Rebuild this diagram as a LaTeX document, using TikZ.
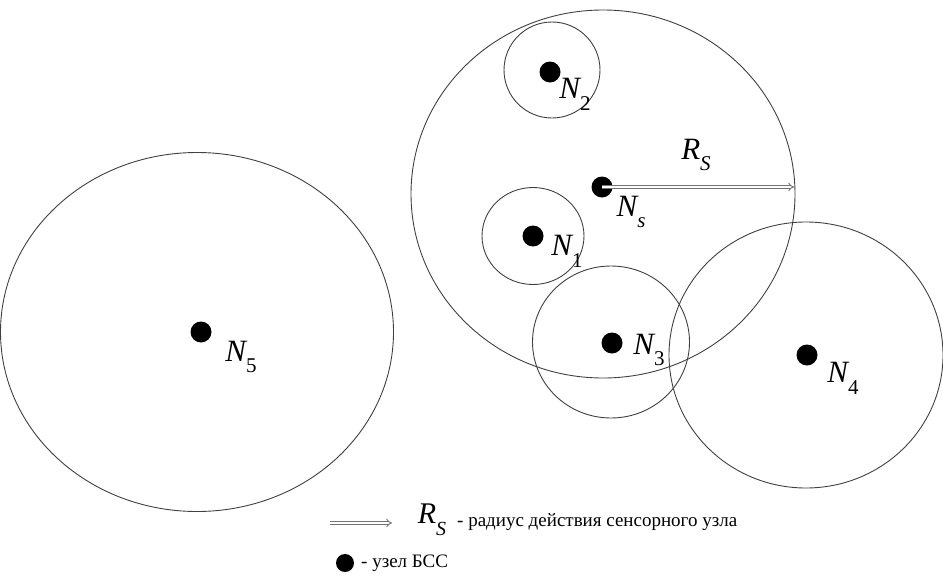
\documentclass[tikz,border=0pt]{standalone}
\usepackage{fontspec}
\setmainfont{Liberation Serif}
\usetikzlibrary{shapes.geometric,arrows.meta}
\begin{document}
\begin{tikzpicture}[x=1pt,y=-1pt,
  zone/.style={ellipse,draw=black!75,line width=0.9pt,inner sep=0pt},
  dot/.style={circle,fill=black,inner sep=0pt,minimum size=21pt},
  lbl/.style={font=\fontsize{31}{31}\selectfont\itshape,inner sep=0pt},
  radarrow/.style={double=white,draw=black!55,double distance=2pt,line width=0.9pt,-{Implies[length=7pt]}},
  legtext/.style={font=\fontsize{19}{19}\selectfont,anchor=west,inner sep=0pt}]
\useasboundingbox (0,0) rectangle (943,581);
% zones
\node[zone,minimum width=384pt,minimum height=368pt] (zs) at (603,194) {};
\node[zone,minimum width=96pt,minimum height=96pt] (z2) at (552,70) {};
\node[zone,minimum width=102pt,minimum height=97pt] (z1) at (533,236) {};
\node[zone,minimum width=157pt,minimum height=152pt] (z3) at (611,342) {};
\node[zone,minimum width=274pt,minimum height=266pt] (z4) at (806,355) {};
\node[zone,minimum width=393pt,minimum height=359pt] (z5) at (197,332) {};
% nodes
\node[dot] (ns) at (602,187) {};
\node[dot] (n2) at (550,72) {};
\node[dot] (n1) at (533,236) {};
\node[dot] (n3) at (612,343) {};
\node[dot] (n4) at (807,355) {};
\node[dot] (n5) at (201,332) {};
% labels
\node[lbl] (ls) at (631,212) {N\raisebox{-0.38em}{\fontsize{21}{21}\selectfont s}};
\node[lbl] (l2) at (575,94) {N\raisebox{-0.38em}{\fontsize{21}{21}\selectfont\upshape 2}};
\node[lbl] (l1) at (567,251) {N\raisebox{-0.38em}{\fontsize{21}{21}\selectfont\upshape 1}};
\node[lbl] (l3) at (649,350) {N\raisebox{-0.38em}{\fontsize{21}{21}\selectfont\upshape 3}};
\node[lbl] (l4) at (843,378) {N\raisebox{-0.38em}{\fontsize{21}{21}\selectfont\upshape 4}};
\node[lbl] (l5) at (241,357) {N\raisebox{-0.38em}{\fontsize{21}{21}\selectfont\upshape 5}};
\node[lbl] (lr) at (696,155) {R\raisebox{-0.38em}{\fontsize{21}{21}\selectfont S}};
% radius arrow
\coordinate (re) at (794,187);
\draw[radarrow] (ns.center) -- (re);
% legend
\coordinate (la1) at (330,523);
\coordinate (la2) at (392,523);
\draw[radarrow] (la1) -- (la2);
\node[lbl,font=\fontsize{30}{30}\selectfont\itshape] (lgr) at (432,520) {R\raisebox{-0.4em}{\fontsize{20}{20}\selectfont S}};
\node[legtext] (lgt1) at (457,522) {- радиус действия сенсорного узла};
\node[dot,minimum size=18pt] (lgd) at (345,563) {};
\node[legtext] (lgt2) at (361,563) {- узел БСС};
\end{tikzpicture}
\end{document}
